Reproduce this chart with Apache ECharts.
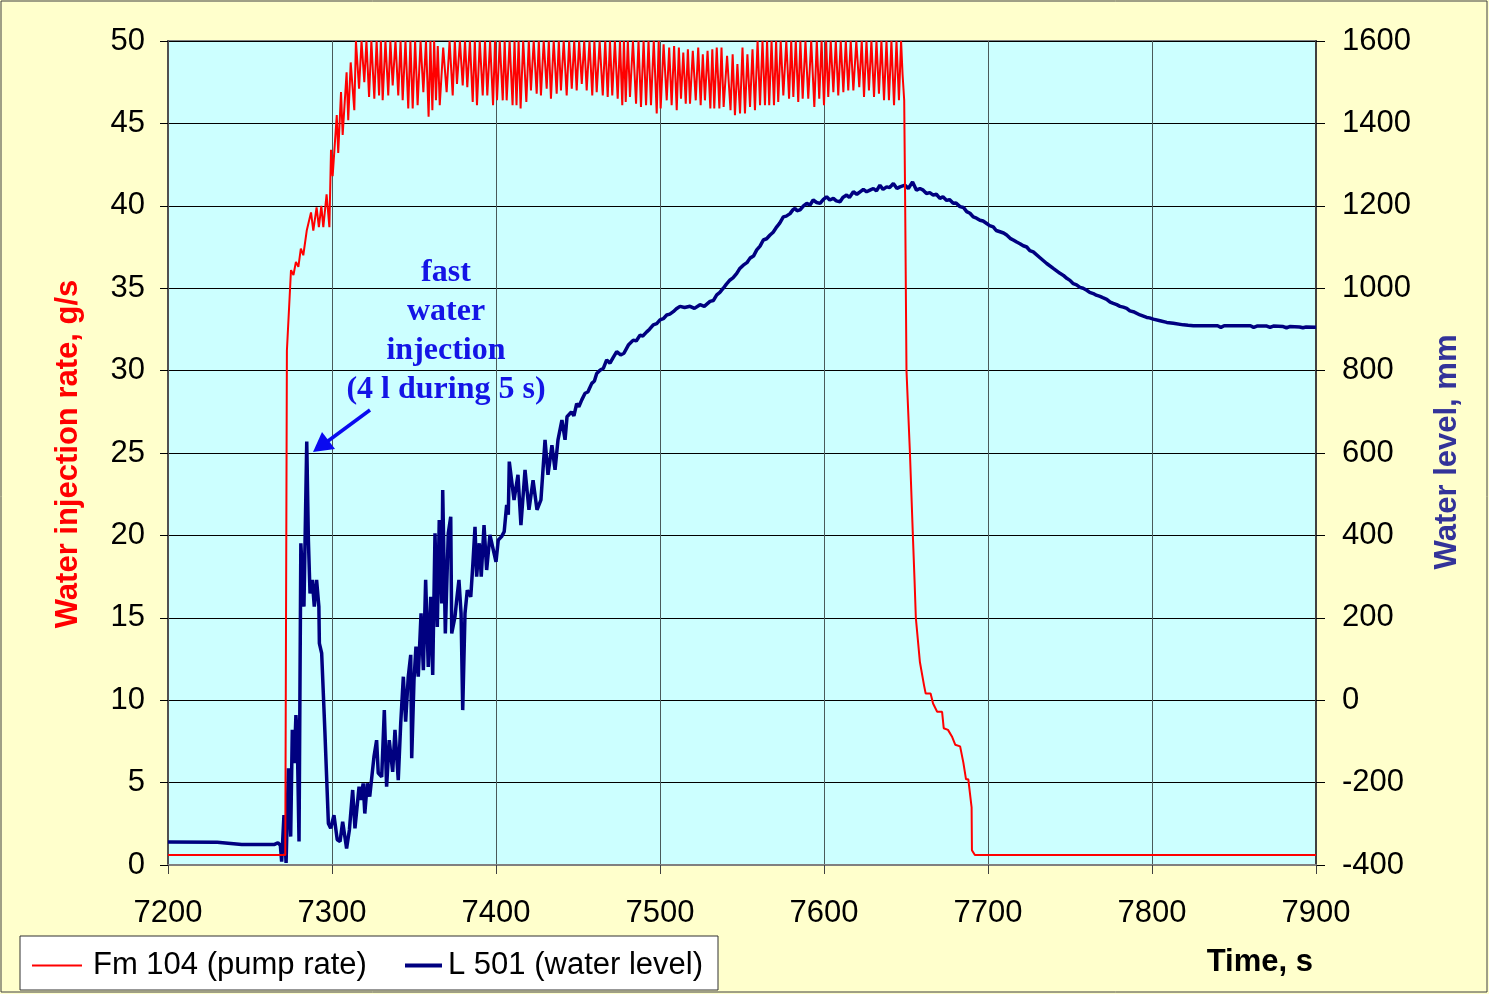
<!DOCTYPE html>
<html>
<head>
<meta charset="utf-8">
<script src="https://cdn.jsdelivr.net/npm/echarts@6/dist/echarts.min.js"></script>
<style>
html,body{margin:0;padding:0;background:#FFFFCC;}
#chart{width:1489px;height:994px;}
</style>
</head>
<body>
<div id="chart"></div>
<script>
// ---- data ----
const xTicks = {min: 7200, max: 7900, step: 100};
const leftTicks = {min: 0, max: 50, step: 5};
const rightTicks = {min: -400, max: 1600, step: 200};
const seriesNames = ['Fm 104 (pump rate)', 'L 501 (water level)'];

// Fm 104 pump rate, g/s  [time s, value]
const pumpRate = [
[7200,0.6],[7271.5,0.6],[7272.5,31.2],[7275,36.1],[7276.5,35.8],[7278,36.6],[7279.5,36.3],[7281,37.4],[7282.5,37],
[7284.6,38.5],[7287.2,39.6],[7288.6,38.5],[7290.6,39.9],[7292,38.7],[7293.5,40],[7294.7,38.7],[7296.7,40.7],[7298.4,38.7],
[7299.4,43.4],[7300.4,41.8],[7302.9,45.5],[7303.8,43.2],[7305.5,46.9],[7306.5,44.3],[7308.9,48.1],[7309.9,45.2],[7311.4,48.7],
[7313.6,45.8],[7314.6,50],
[7316.5,47.1],[7318,50],[7319.7,47.5],[7321,50],[7322.6,46.6],[7324,50],[7325.8,46.5],[7327.2,50],[7328.7,46.7],[7329.8,50],
[7330.9,46.4],[7332.6,50],[7334.3,46.7],[7335.6,50],[7337,47.3],[7338.7,50],[7340.4,46.7],[7341.8,50],[7343.1,46.4],[7344.8,50],
[7346.5,45.9],[7347.8,50],[7349.2,45.9],[7350.7,50],[7352.2,46.1],[7354,50],[7355.7,46.9],[7357.3,50],[7358.9,45.4],[7360,50],
[7361.2,45.8],[7362.3,50],[7363.4,46.4],[7364.5,49.7],[7365.7,46.1],[7367.8,49.6],[7369.9,46.9],[7371.7,50],[7373.6,46.7],[7374.9,50],
[7376.2,47.4],[7378,50],[7379.7,47.3],[7381.1,50],[7382.5,47.2],[7384.1,50],[7385.8,46.3],[7387.1,50],[7388.4,46.1],[7390.1,50],
[7391.9,46.7],[7393.3,50],[7394.7,46.7],[7396.4,50],[7398.2,46.1],[7399.4,50],[7400.6,46.4],[7402.3,50],[7404.1,46.4],[7405.3,50],
[7406.5,46.4],[7408.3,50],[7410.1,46.1],[7411.3,50],[7412.5,46.1],[7413.8,50],[7415,45.9],[7416.6,50],[7418.5,46.3],[7420,50],
[7421.3,47],[7423,50],[7424.8,46.8],[7426.1,50],[7427.4,46.7],[7429.1,50],[7430.9,47.1],[7432.2,50],[7433.5,46.5],[7435.2,50],
[7437,46.8],[7438.3,50],[7439.6,47],[7441.3,50],[7443.1,46.7],[7444.6,50],[7446.2,47.1],[7447.7,50],[7449.2,47],[7450.7,50],
[7452.3,47.4],[7453.8,50],[7455.3,47],[7457,50],[7458.7,46.7],[7460,50],[7461.4,46.9],[7463.2,50],[7465.1,46.7],[7466.6,50],
[7468.1,46.6],[7469.5,50],[7470.9,46.7],[7472.5,50],[7474.2,46.5],[7475.6,50],[7477,46.1],[7478,50],[7479.1,46.3],[7480.4,50],
[7481.7,46.6],[7483.5,50],[7485.4,46.2],[7486.9,50],[7488.4,46],[7490,50],[7491.5,46.1],[7493,50],[7494.5,46.1],[7496.2,50],
[7498,45.6],[7499.2,50],[7500.4,45.9],[7502.2,49.8],[7504.1,46.4],[7505.6,49.6],[7507.1,46.1],[7508.6,49.7],[7510.2,45.8],[7511.5,49.6],
[7512.8,46.5],[7514.2,49.3],[7515.7,46.2],[7517,49.5],[7518.3,46.2],[7520,49.4],[7521.8,46.4],[7523.3,49.6],[7524.8,46.1],[7526.1,49.2],
[7527.4,46.4],[7529,49.4],[7530.7,45.9],[7531.9,49.5],[7533.1,45.9],[7534.6,49.6],[7536.2,45.9],[7537.5,49.6],[7538.8,46],[7540.9,49.1],
[7543,45.8],[7544.3,49.2],[7545.7,45.5],[7547.2,48.6],[7548.8,45.6],[7550.3,49.6],[7551.8,45.6],[7553.3,49.2],[7554.9,46],[7556.4,49.5],
[7557.9,45.8],[7559.5,50],[7561,46.1],[7562.5,50],[7564,46.1],[7565.3,50],[7566.6,46.1],[7568,50],[7569.5,46.1],[7570.8,50],
[7572.1,46.3],[7573.6,50],[7575.2,46.7],[7577,50],[7578.7,46.5],[7580,50],[7581.3,46.6],[7582.8,50],[7584.3,46.3],[7585.6,50],
[7587,46.5],[7588.7,50],[7590.4,46.5],[7592.2,50],[7594.1,46],[7595.6,50],[7597.1,46.5],[7598.5,50],[7600,46.1],[7601.3,50],
[7602.6,46.6],[7604.1,50],[7605.7,46.9],[7607.2,50],[7608.7,46.7],[7610.2,50],[7611.8,46.9],[7613.3,50],[7614.8,47],[7616.3,50],
[7617.9,47],[7619.7,50],[7621.5,47.2],[7623,50],[7624.4,46.6],[7625.9,50],[7627.4,47],[7628.9,50],[7630.5,46.6],[7632,50],
[7633.5,46.8],[7635,50],[7636.6,46.4],[7638.1,50],[7639.6,46.4],[7641.1,50],[7642.7,46.1],[7644.2,50],[7645.7,46.4],[7647,50],
[7647.9,48],[7648.9,46.4],
[7649.5,40],[7650.3,30],[7652.4,25],[7654.3,19.7],[7655.2,17.3],[7656,15],[7658.5,12.3],[7661,10.9],[7662,10.4],[7665,10.4],
[7666.5,9.8],[7667.5,9.8],[7669,9.3],[7672,9.3],[7673,8.3],[7675.6,8.2],[7678,7.8],[7680,7.3],[7683,7.2],[7685,6.2],
[7686.6,5.2],[7688,5.2],[7690,3.5],[7690.2,0.9],[7692,0.6],[7900,0.6]
];

// L 501 water level, mm  [time s, value]
const waterLevel = [
[7200,-344],[7230,-345],[7245,-350],[7265,-350],[7267,-346],[7268.5,-352],[7269.3,-392],[7270.7,-279],[7272,-395],[7273.4,-165],
[7274.8,-331],[7275.8,-72],[7277,-153],[7278,-36],[7278.8,-89],[7279.9,-343],[7281,381],[7282.9,227],[7284.6,628],[7285.6,389],
[7286.6,259],[7288,292],[7289.2,227],[7290.6,292],[7292,227],[7292.3,138],[7293.7,114],[7295.7,-80],[7297.8,-299],[7299.2,-311],
[7301.2,-279],[7303.2,-339],[7304.9,-343],[7306.5,-295],[7308.9,-360],[7310.6,-315],[7312.6,-218],[7314,-311],[7316.5,-210],[7317.5,-242],
[7319,-202],[7320,-275],[7321.5,-202],[7323,-234],[7325.6,-137],[7327.2,-97],[7328.2,-177],[7330.3,-186],[7331.9,-24],[7333.3,-210],
[7334.9,-97],[7337,-174],[7338.4,-72],[7340.4,-194],[7341.9,-56],[7343.5,57],[7344.9,-52],[7346.5,57],[7348,110],[7348.6,-141],
[7350,49],[7351.2,130],[7352.6,57],[7354.3,211],[7355.7,73],[7357.1,292],[7358.7,81],[7360.2,251],[7361.4,61],[7362.8,405],
[7364.2,178],[7365.4,437],[7366.9,235],[7367.5,510],[7369.1,162],[7370.9,405],[7372.4,445],[7373,162],[7375,203],[7376,243],
[7377.4,292],[7378.7,211],[7379.7,-24],[7381.1,211],[7382.5,267],[7384.6,251],[7385.8,324],[7387.2,421],[7388.2,300],[7389.8,381],
[7391,300],[7392.7,425],[7394.3,316],[7396.3,401],[7397.9,373],[7400,336],[7401.4,389],[7403.4,397],[7405,409],[7406.5,474],
[7407.5,450],[7408.1,579],[7409.1,578],[7411,486],[7413.4,547],[7415.2,425],[7417.7,559],[7420.1,462],[7422.6,534],[7425,462],
[7427.4,486],[7429.9,632],[7431.7,547],[7434.1,619],[7436,559],[7437.8,632],[7440.2,680],[7442.1,632],[7443.3,688],[7446,700],[7447.5,690],[7449.2,720],
[7450.5,712],[7452.3,729],[7454.3,745],[7456,748],[7458.4,769],[7460,775],[7461.4,793],[7463.4,801],[7465.5,806],[7467.5,826],[7469.5,818],[7471.5,832],[7473.6,846],[7476,838],[7478,842],[7480.7,862],
[7483.7,874],[7485.5,872],[7487.8,886],[7489.5,884],[7491.9,894],[7493.5,900],[7495.9,911],[7498,914],[7500,923],[7502,926],[7504.1,935],[7506,937],[7508.1,943],[7510,950],[7512.2,956],[7515,953],[7518.3,956],[7521,951],[7524.4,960],[7527,956],
[7530.5,968],[7532.5,970],[7534.6,984],[7536.5,990],[7538.6,1000],[7540.5,1010],[7542.7,1020],[7544.5,1025],[7546.8,1036],[7548.5,1047],[7550.8,1056],[7553,1062],[7554.9,1073],[7557,1078],[7559,1093],[7561,1102],[7563,1117],[7565,1120],[7567.1,1129],
[7569,1136],[7571.2,1149],[7573,1158],[7575.2,1173],[7577,1175],[7579.3,1181],[7581,1190],[7582.3,1194],[7583.5,1188],[7585.4,1190],[7587.5,1200],[7589.5,1206],[7591.5,1202],[7593.4,1214],[7595.5,1208],[7597.6,1206],[7599.5,1215],[7601.6,1222],[7603.5,1214],[7605.7,1218],
[7607.5,1212],[7609.8,1210],[7611.5,1220],[7613.8,1226],[7615.5,1220],[7617.9,1234],[7620,1228],[7622,1234],[7624,1240],[7626,1234],[7628,1238],[7630.1,1242],[7632,1236],[7634.1,1250],[7636,1240],[7638.2,1246],[7640,1244],[7642.3,1254],[7644.5,1242],[7646.3,1246],
[7649.4,1250],[7651.4,1242],[7654,1258],[7656.4,1238],[7658.5,1242],[7660.5,1238],[7662.5,1230],[7664.5,1232],[7666.6,1226],[7668.5,1228],[7670.7,1218],[7672.5,1222],[7674.8,1213],[7676.5,1215],[7678.8,1206],[7680.5,1207],
[7682.9,1198],[7685,1196],[7687,1186],[7689,1182],[7691,1173],[7693,1170],[7695.1,1165],[7697,1163],[7699.2,1157],[7701,1152],[7703.2,1149],[7705,1140],[7707.3,1137],[7709.5,1134],[7711.4,1129],[7713.5,1121],[7715.4,1117],[7717.5,1112],[7719.5,1108],
[7721.5,1103],[7723.6,1100],[7725.5,1091],[7727.6,1088],[7731.7,1074],[7735.8,1060],[7739.8,1048],[7743.9,1036],[7746,1031],[7748,1024],[7750,1019],[7752,1011],[7754,1008],[7756.1,1002],[7758,1000],[7760.2,995],
[7762,990],[7764.2,987],[7766,983],[7768.3,980],[7770,977],[7772.4,973],[7774.5,966],[7776.4,963],[7778.5,960],[7780.5,956],[7782.5,954],[7784.6,951],[7786.5,945],[7788.6,943],[7792.7,935],[7796.8,929],[7798.5,928],[7800.8,925],
[7804.9,921],[7809,917],[7813,915],[7819.1,911],[7822,910],[7825.2,909],[7840,909],[7842,905],[7844,909],[7860,909],[7862,905],[7864,908],[7870,908],[7872,905],[7874,908],[7880,907],[7882,904],[7884,907],[7890,906],[7892,904],[7894,906],[7900,905]
];

const chart = echarts.init(document.getElementById('chart'), null, {renderer: 'canvas'});
const FONT = '"Liberation Sans", Arial, sans-serif';
const FS = 31;
const labelStyle = {color: '#000', fontSize: FS, fontFamily: FONT, formatter: function (v) { return String(v); }};

chart.setOption({
  animation: false,
  backgroundColor: '#FFFFCC',
  grid: {left: 168, right: 173, top: 41, bottom: 129, show: true, backgroundColor: '#CCFFFF', borderColor: '#808080', borderWidth: 2, containLabel: false},
  xAxis: {
    type: 'value', min: xTicks.min, max: xTicks.max, interval: xTicks.step,
    axisLine: {show: true, lineStyle: {color: '#808080', width: 2}},
    axisTick: {show: true, inside: false, length: 9, lineStyle: {color: '#404040', width: 1}},
    axisLabel: Object.assign({margin: 33}, labelStyle),
    splitLine: {show: true, lineStyle: {color: '#4a5a5a', width: 1}}
  },
  yAxis: [
    {
      type: 'value', min: leftTicks.min, max: leftTicks.max, interval: leftTicks.step, position: 'left',
      axisLine: {show: true, lineStyle: {color: '#505050', width: 2}},
      axisTick: {show: true, length: 8, lineStyle: {color: '#000', width: 1}},
      axisLabel: Object.assign({margin: 23}, labelStyle),
      splitLine: {show: true, lineStyle: {color: '#000', width: 1}}
    },
    {
      type: 'value', min: rightTicks.min, max: rightTicks.max, interval: rightTicks.step, position: 'right',
      axisLine: {show: true, lineStyle: {color: '#404040', width: 2}},
      axisTick: {show: true, length: 9, lineStyle: {color: '#000', width: 1}},
      axisLabel: Object.assign({margin: 26}, labelStyle),
      splitLine: {show: false}
    }
  ],
  legend: [
    {data: [seriesNames[0]], left: 32, top: 950, padding: 0, icon: 'rect', itemWidth: 50, itemHeight: 2, itemGap: 0,
     textStyle: {fontSize: FS, fontFamily: FONT, color: '#000', padding: [0,0,0,6]}, z: 10, selectedMode: false},
    {data: [seriesNames[1]], left: 405, top: 950, padding: 0, icon: 'rect', itemWidth: 37, itemHeight: 4, itemGap: 0,
     textStyle: {fontSize: FS, fontFamily: FONT, color: '#000', padding: [0,0,0,1]}, z: 10, selectedMode: false}
  ],
  series: [
    {name: seriesNames[1], type: 'line', yAxisIndex: 1, data: waterLevel, symbol: 'none', sampling: null,
     lineStyle: {color: '#000080', width: 3.5}, itemStyle: {color: '#000080'}, z: 3, clip: true},
    {name: seriesNames[0], type: 'line', yAxisIndex: 0, data: pumpRate, symbol: 'none', sampling: null,
     lineStyle: {color: '#FF0000', width: 2}, itemStyle: {color: '#FF0000'}, z: 4, clip: true}
  ],
  graphic: [
    {type: 'rect', shape: {x: 1, y: 1, width: 1486, height: 991}, style: {fill: null, stroke: '#404040', lineWidth: 1}, z: 0, silent: true},
    {type: 'rect', shape: {x: 20, y: 936, width: 698, height: 54}, style: {fill: '#FFFFFF', stroke: '#303030', lineWidth: 1}, z: 1},
    {type: 'text', x: 68, y: 454, rotation: Math.PI / 2,
     style: {text: 'Water injection rate, g/s', fill: '#FF0000', font: 'bold 31px ' + FONT, textAlign: 'center', textVerticalAlign: 'middle'}, z: 5},
    {type: 'text', x: 1447, y: 452, rotation: Math.PI / 2,
     style: {text: 'Water level, mm', fill: '#333399', font: 'bold 31px ' + FONT, textAlign: 'center', textVerticalAlign: 'middle'}, z: 5},
    {type: 'text', x: 1313, y: 962,
     style: {text: 'Time, s', fill: '#000', font: 'bold 31px ' + FONT, textAlign: 'right', textVerticalAlign: 'middle'}, z: 5},
    {type: 'text', x: 446, y: 253,
     style: {text: 'fast\nwater\ninjection\n(4 l during 5 s)', fill: '#1414E6', font: 'bold 32px "Liberation Serif", "Times New Roman", serif',
             lineHeight: 39, textAlign: 'center', textVerticalAlign: 'top'}, z: 6},
    {type: 'line', shape: {x1: 370, y1: 410, x2: 328, y2: 441}, style: {stroke: '#0A0AF0', lineWidth: 3.5}, z: 6},
    {type: 'polygon', shape: {points: [[313, 452], [322, 432], [335, 449]]}, style: {fill: '#0A0AF0'}, z: 6}
  ]
});
</script>
</body>
</html>
